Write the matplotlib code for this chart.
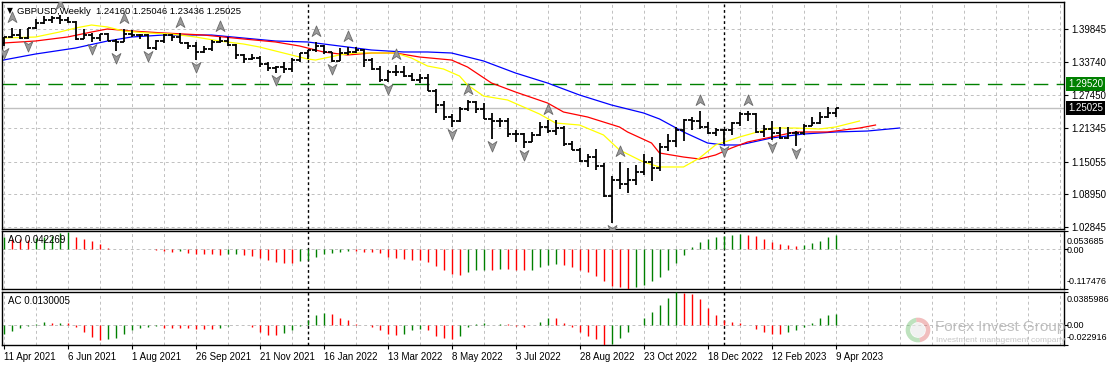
import numpy as np
import matplotlib
matplotlib.use('Agg')
import matplotlib.pyplot as plt
from matplotlib.path import Path
from matplotlib.patches import Wedge, Circle
from matplotlib.transforms import blended_transform_factory

plt.rcParams['font.family'] = ['Liberation Sans', 'DejaVu Sans']
plt.rcParams['font.size'] = 7

# GBPUSD weekly bars, 11 Apr 2021 .. 9 Apr 2023
opens = [1.3720, 1.3830, 1.3873, 1.3818, 1.3995, 1.4093, 1.4150, 1.4190, 1.4157, 1.4107,
         1.3800, 1.3868, 1.3825, 1.3890, 1.3760, 1.3740, 1.3900, 1.3870, 1.3870, 1.3625,
         1.3760, 1.3870, 1.3840, 1.3730, 1.3675, 1.3550, 1.3615, 1.3745, 1.3757, 1.3680,
         1.3495, 1.3415, 1.3440, 1.3330, 1.3265, 1.3270, 1.3240, 1.3400, 1.3530, 1.3590,
         1.3675, 1.3550, 1.3395, 1.3530, 1.3560, 1.3590, 1.3410, 1.3240, 1.3030, 1.3180,
         1.3180, 1.3115, 1.3035, 1.3070, 1.2830, 1.2570, 1.2335, 1.2260, 1.2490, 1.2620,
         1.2490, 1.2310, 1.2270, 1.2270, 1.2015, 1.2030, 1.1870, 1.2000, 1.2160, 1.2075,
         1.2140, 1.1830, 1.1730, 1.1510, 1.1585, 1.1415, 1.0860, 1.1170, 1.1090, 1.1170,
         1.1305, 1.1490, 1.1380, 1.1770, 1.1890, 1.2100, 1.2290, 1.2265, 1.2150, 1.2050,
         1.2095, 1.2090, 1.2225, 1.2395, 1.2395, 1.2055, 1.2115, 1.2040, 1.1945, 1.2035,
         1.2035, 1.2175, 1.2230, 1.2335, 1.24160]
highs = [1.3837, 1.4009, 1.3976, 1.4008, 1.4167, 1.4234, 1.4220, 1.4250, 1.4200, 1.4134,
         1.3978, 1.3910, 1.3898, 1.3908, 1.3789, 1.3983, 1.3958, 1.3893, 1.3890, 1.3784,
         1.3891, 1.3888, 1.3913, 1.3750, 1.3745, 1.3674, 1.3773, 1.3834, 1.3826, 1.3698,
         1.3510, 1.3514, 1.3480, 1.3373, 1.3300, 1.3375, 1.3440, 1.3540, 1.3600, 1.3749,
         1.3690, 1.3560, 1.3628, 1.3645, 1.3640, 1.3620, 1.3440, 1.3300, 1.3215, 1.3310,
         1.3290, 1.3165, 1.3150, 1.3148, 1.2860, 1.2640, 1.2405, 1.2525, 1.2667, 1.2640,
         1.2600, 1.2406, 1.2325, 1.2330, 1.2100, 1.2040, 1.2065, 1.2245, 1.2293, 1.2275,
         1.2180, 1.1900, 1.1760, 1.1650, 1.1738, 1.1480, 1.1235, 1.1495, 1.1380, 1.1440,
         1.1645, 1.1600, 1.1855, 1.2030, 1.2150, 1.2310, 1.2345, 1.2445, 1.2245, 1.2130,
         1.2120, 1.2245, 1.2435, 1.2448, 1.2420, 1.2190, 1.2270, 1.2145, 1.2145, 1.2080,
         1.2200, 1.2345, 1.2425, 1.2525, 1.25046]
lows = [1.3670, 1.3824, 1.3802, 1.3801, 1.3991, 1.4073, 1.4093, 1.4083, 1.4090, 1.3787,
        1.3792, 1.3733, 1.3760, 1.3760, 1.3570, 1.3740, 1.3840, 1.3800, 1.3602, 1.3600,
        1.3728, 1.3760, 1.3720, 1.3610, 1.3411, 1.3544, 1.3570, 1.3730, 1.3670, 1.3425,
        1.3355, 1.3400, 1.3280, 1.3194, 1.3160, 1.3165, 1.3180, 1.3375, 1.3430, 1.3560,
        1.3520, 1.3360, 1.3380, 1.3490, 1.3530, 1.3270, 1.3210, 1.3000, 1.2999, 1.3100,
        1.3090, 1.3010, 1.2975, 1.2820, 1.2410, 1.2275, 1.2155, 1.2250, 1.2460, 1.2420,
        1.2300, 1.1934, 1.2160, 1.1975, 1.1876, 1.1760, 1.1865, 1.1990, 1.2040, 1.2000,
        1.1800, 1.1715, 1.1500, 1.1405, 1.1350, 1.0838, 1.0350, 1.1000, 1.0925, 1.1060,
        1.1260, 1.1150, 1.1335, 1.1710, 1.1780, 1.1900, 1.2105, 1.2120, 1.2020, 1.1990,
        1.1840, 1.2000, 1.2170, 1.2260, 1.2050, 1.1960, 1.1915, 1.1925, 1.1920, 1.1800,
        1.2010, 1.2170, 1.2200, 1.2325, 1.23436]
closes = [1.3830, 1.3873, 1.3818, 1.3995, 1.4093, 1.4150, 1.4190, 1.4157, 1.4107, 1.3800,
          1.3868, 1.3825, 1.3890, 1.3760, 1.3740, 1.3900, 1.3870, 1.3870, 1.3625, 1.3760,
          1.3870, 1.3840, 1.3730, 1.3675, 1.3550, 1.3615, 1.3745, 1.3757, 1.3680, 1.3495,
          1.3415, 1.3440, 1.3330, 1.3265, 1.3270, 1.3240, 1.3400, 1.3530, 1.3590, 1.3675,
          1.3550, 1.3395, 1.3530, 1.3560, 1.3590, 1.3410, 1.3240, 1.3030, 1.3180, 1.3180,
          1.3115, 1.3035, 1.3070, 1.2830, 1.2570, 1.2335, 1.2260, 1.2490, 1.2620, 1.2490,
          1.2310, 1.2270, 1.2270, 1.2015, 1.2030, 1.1870, 1.2000, 1.2160, 1.2075, 1.2140,
          1.1830, 1.1730, 1.1510, 1.1585, 1.1415, 1.0860, 1.1170, 1.1090, 1.1170, 1.1305,
          1.1490, 1.1380, 1.1770, 1.1890, 1.2100, 1.2290, 1.2265, 1.2150, 1.2050, 1.2095,
          1.2090, 1.2225, 1.2395, 1.2395, 1.2055, 1.2115, 1.2040, 1.1945, 1.2035, 1.2035,
          1.2175, 1.2230, 1.2335, 1.2415, 1.25025]

date_labels = ['11 Apr 2021', '6 Jun 2021', '1 Aug 2021', '26 Sep 2021', '21 Nov 2021',
               '16 Jan 2022', '13 Mar 2022', '8 May 2022', '3 Jul 2022', '28 Aug 2022',
               '23 Oct 2022', '18 Dec 2022', '12 Feb 2023', '9 Apr 2023']
date_label_bars = [0, 8, 16, 24, 32, 40, 48, 56, 64, 72, 80, 88, 96, 104]
year_separators = [38, 90]

price_ticks = [1.39845, 1.33740, 1.27450, 1.21345, 1.15055, 1.08950, 1.02845]
price_range = (1.02469, 1.44891)
level_line = 1.29520
bid_price = 1.25025

up_fractals = [1, 7, 15, 22, 27, 39, 43, 49, 58, 68, 77, 87, 93]
down_fractals = [0, 3, 11, 14, 18, 24, 34, 41, 48, 56, 61, 65, 76, 90, 96, 99]

# alligator lines (jaw blue, teeth red, lips yellow), sampled off the chart
jaw_bars = [0, 4, 9, 13, 16, 20, 26, 30, 34, 38, 42, 46, 50, 53, 56, 60, 64, 68, 72, 76,
            80, 82, 85, 88, 90, 92, 96, 100, 104, 108, 112]
jaw_vals = [1.3405, 1.3517, 1.3629, 1.3760, 1.3835, 1.3872, 1.3872, 1.3816, 1.3760, 1.3742,
            1.3667, 1.3592, 1.3555, 1.3555, 1.3536, 1.3387, 1.3162, 1.2975, 1.2751, 1.2564,
            1.2415, 1.2303, 1.2060, 1.1854, 1.1817, 1.1817, 1.1948, 1.2022, 1.2060, 1.2078,
            1.2134]
teeth_bars = [0, 4, 8, 11, 13, 16, 20, 25, 30, 34, 37, 40, 43, 46, 49, 52, 56, 58, 61, 64,
              68, 70, 73, 77, 78, 81, 82, 85, 87, 89, 91, 93, 96, 99, 103, 107, 109]
teeth_vals = [1.3723, 1.3760, 1.3835, 1.3928, 1.3985, 1.3947, 1.3910, 1.3872, 1.3798, 1.3742,
              1.3667, 1.3555, 1.3499, 1.3536, 1.3536, 1.3461, 1.3405, 1.3274, 1.2975, 1.2807,
              1.2602, 1.2433, 1.2340, 1.2153, 1.2060, 1.1854, 1.1667, 1.1592, 1.1555, 1.1630,
              1.1761, 1.1873, 1.1966, 1.2060, 1.2060, 1.2134, 1.2190]
lips_bars = [0, 4, 7, 9, 11, 13, 15, 18, 21, 24, 27, 30, 32, 35, 38, 39, 42, 44, 49, 51,
             53, 55, 57, 58, 60, 63, 65, 67, 69, 72, 75, 77, 80, 82, 85, 87, 89, 92, 96, 99,
             102, 104, 107]
lips_vals = [1.3816, 1.3835, 1.3928, 1.4003, 1.4059, 1.4022, 1.3947, 1.3910, 1.3891, 1.3835,
             1.3760, 1.3704, 1.3648, 1.3536, 1.3424, 1.3405, 1.3499, 1.3536, 1.3536, 1.3442,
             1.3293, 1.3237, 1.3106, 1.2938, 1.2732, 1.2658, 1.2527, 1.2396, 1.2228, 1.2190,
             1.2004, 1.1723, 1.1499, 1.1406, 1.1406, 1.1574, 1.1817, 1.1966, 1.2134, 1.2134,
             1.2116, 1.2153, 1.2265]

ao_vals = [0.036, 0.030, 0.030, 0.028, 0.032, 0.036, 0.040, 0.047, 0.050, 0.035,
           0.031, 0.024, 0.014, 0.004, 0.001, 0.0005, 0.001, 0.002, 0.002, -0.002,
           -0.004, -0.007, -0.006, -0.010, -0.014, -0.015, -0.015, -0.016, -0.014, -0.013,
           -0.016, -0.020, -0.025, -0.032, -0.039, -0.040, -0.042, -0.036, -0.032, -0.022,
           -0.015, -0.010, -0.007, -0.004, -0.004, -0.007, -0.009, -0.012, -0.022, -0.027,
           -0.030, -0.032, -0.033, -0.038, -0.050, -0.062, -0.072, -0.075, -0.068, -0.062,
           -0.060, -0.062, -0.058, -0.058, -0.060, -0.062, -0.060, -0.054, -0.048, -0.045,
           -0.048, -0.052, -0.060, -0.068, -0.078, -0.095, -0.108, -0.112, -0.117476, -0.112,
           -0.105, -0.095, -0.082, -0.062, -0.040, -0.018, 0.005, 0.022, 0.030, 0.036,
           0.040, 0.042, 0.044, 0.043, 0.038, 0.030, 0.022, 0.015, 0.012, 0.010,
           0.012, 0.018, 0.025, 0.035, 0.042269]
ao_range = (-0.117476, 0.053685)

ac_vals = [-0.0098, -0.0066, -0.0027, -0.0005, 0.0010, 0.0039, 0.0023, 0.0027, 0.0027, -0.0020,
           -0.0078, -0.0137, -0.0168, -0.0156, -0.0148, -0.0098, -0.0050, -0.0027, -0.0020, -0.0010,
           -0.0027, -0.0027, -0.0027, -0.0027, -0.0040, -0.0040, -0.0040, -0.0027, -0.0003, 0.0005,
           0.0002, -0.0020, -0.0078, -0.0110, -0.0110, -0.0090, -0.0050, -0.0010, 0.0060, 0.0117,
           0.0137, 0.0129, 0.0090, 0.0059, 0.0012, 0.0000, -0.0020, -0.0059, -0.0105, -0.0110,
           -0.010, -0.006, -0.004, -0.006, -0.012, -0.015, -0.016, -0.012, -0.002, 0.002,
           0.003, 0.000, 0.002, 0.001, -0.001, -0.002, 0.000, 0.004, 0.008, 0.008,
           0.003, -0.002, -0.008, -0.012, -0.016, -0.022916, -0.022, -0.015, -0.008, 0.000,
           0.008, 0.015, 0.024, 0.032, 0.0385986, 0.038, 0.036, 0.030, 0.020, 0.012,
           0.006, 0.004, 0.003, 0.000, -0.004, -0.008, -0.010, -0.010, -0.008, -0.006,
           -0.002, 0.003, 0.008, 0.012, 0.0130005]
ac_range = (-0.022916, 0.0385986)

# ---- layout in pixels ----
W, H = 1110, 366
fig = plt.figure(figsize=(W / 100, H / 100), dpi=100)


def px_box(x0, y0, x1, y1):
    return [x0 / W, 1 - y1 / H, (x1 - x0) / W, (y1 - y0) / H]


ax = fig.add_axes(px_box(2, 2, 1064, 229))
ax_ao = fig.add_axes(px_box(2, 231, 1064, 289))
ax_ac = fig.add_axes(px_box(2, 292, 1064, 345))

x = np.arange(len(closes))
grid_color = '#c0c0c0'
grid_ls = (0, (3, 3))

for a in (ax, ax_ao, ax_ac):
    a.set_xlim(-0.1875, 132.56)
    for s in a.spines.values():
        s.set_linewidth(1.0)
        s.set_color('black')
    for gx in range(0, 133, 4):
        a.axvline(gx, color=grid_color, lw=0.7, ls=grid_ls, zorder=0)
    for sx in year_separators:
        a.axvline(sx, color='black', lw=1.0, ls=(0, (2, 2)), zorder=1)
    a.yaxis.tick_right()
    a.tick_params(axis='x', which='both', bottom=False, top=False, labelbottom=False)
    a.tick_params(axis='y', direction='out', length=3, width=0.8, pad=2, labelsize=7,
                  colors='black')

# ---- main price panel ----
ax.set_ylim(*price_range)
ax.set_yticks(price_ticks)
ax.set_yticklabels(['%.5f' % p for p in price_ticks])
for p in price_ticks:
    ax.axhline(p, color=grid_color, lw=0.7, ls=grid_ls, zorder=0)

ax.axhline(level_line, color='#008000', lw=1.0, ls=(0, (10.5, 6)), zorder=1)
ax.axhline(bid_price, color='#c0c0c0', lw=1.0, zorder=1)

ax.plot(jaw_bars, jaw_vals, color='#0000ff', lw=0.9, zorder=2)
ax.plot(teeth_bars, teeth_vals, color='#ff0000', lw=0.9, zorder=2)
ax.plot(lips_bars, lips_vals, color='#ffff00', lw=0.9, zorder=2)

ax.vlines(x, lows, highs, color='black', lw=1.3, zorder=3)
ax.hlines(opens, x - 0.42, x, color='black', lw=1.3, zorder=3)
ax.hlines(closes, x, x + 0.42, color='black', lw=1.3, zorder=3)

up_arrow = Path([(0, 1), (0.8, -0.9), (0, -0.35), (-0.8, -0.9), (0, 1)],
                [Path.MOVETO, Path.LINETO, Path.LINETO, Path.LINETO, Path.CLOSEPOLY])
down_arrow = Path([(0, -1), (0.8, 0.9), (0, 0.35), (-0.8, 0.9), (0, -1)],
                  [Path.MOVETO, Path.LINETO, Path.LINETO, Path.LINETO, Path.CLOSEPOLY])
highs_a = np.array(highs)
lows_a = np.array(lows)
ax.plot(up_fractals, highs_a[up_fractals] + 0.0205, ls='none', marker=up_arrow, ms=8,
        mfc='#9a9a9a', mec='#6a6a6a', mew=0.6, zorder=4)
ax.plot(down_fractals, lows_a[down_fractals] - 0.0130, ls='none', marker=down_arrow, ms=8,
        mfc='#9a9a9a', mec='#6a6a6a', mew=0.6, zorder=4)

trans = blended_transform_factory(ax.transAxes, ax.transData)
ax.annotate('%.5f' % level_line, xy=(1, level_line), xycoords=trans, xytext=(4, 0),
            textcoords='offset pixels', va='center', ha='left', color='white', fontsize=7,
            bbox=dict(boxstyle='square,pad=0.2', fc='#008000', ec='none'),
            annotation_clip=False)
ax.annotate('%.5f' % bid_price, xy=(1, bid_price), xycoords=trans, xytext=(4, 0),
            textcoords='offset pixels', va='center', ha='left', color='white', fontsize=7,
            bbox=dict(boxstyle='square,pad=0.2', fc='black', ec='none'),
            annotation_clip=False)

fig.text(7 / W, 1 - 11 / H, '\u25bc', fontsize=5.5, va='center', ha='left',
         family=['DejaVu Sans'])
fig.text(17 / W, 1 - 11 / H, 'GBPUSD,Weekly  1.24160 1.25046 1.23436 1.25025',
         fontsize=6.8, va='center', ha='left')


# ---- oscillator panels ----
def osc_panel(a, vals, yr, name, label_value, offsets):
    a.set_ylim(*yr)
    cols = ['#008000']
    for i in range(1, len(vals)):
        cols.append('#008000' if vals[i] > vals[i - 1] else '#ff0000')
    a.axhline(0, color=grid_color, lw=0.7, ls=grid_ls, zorder=0)
    a.vlines(x, 0, vals, colors=cols, lw=1.0, zorder=3)
    ticks = [yr[1], 0.0, yr[0]]
    a.set_yticks(ticks)
    a.set_yticklabels([])
    tr = blended_transform_factory(a.transAxes, a.transData)
    for t, off, txt in zip(ticks, offsets, [('%g' % yr[1]), '0.00', ('%g' % yr[0])]):
        a.annotate(txt, xy=(1, t), xycoords=tr, xytext=(3, off), textcoords='offset pixels',
                   va='center', ha='left', fontsize=6.5, annotation_clip=False)
    a.text(6 / 1062, 1 - 4 / a.bbox.height, '%s %s' % (name, label_value),
           transform=a.transAxes, fontsize=7, va='top', ha='left')


osc_panel(ax_ao, ao_vals, ao_range, 'AO', '0.042269', (-10, -1, 7))
osc_panel(ax_ac, ac_vals, ac_range, 'AC', '0.0130005', (-8, 0, 7))

ax_ac.set_xticks(date_label_bars)
ax_ac.set_xticklabels(date_labels, ha='left')
ax_ac.tick_params(axis='x', bottom=True, labelbottom=True, length=3, width=0.8, pad=2,
                  labelsize=7)

# ---- watermark logo ----
lax = fig.add_axes(px_box(905, 317, 931, 343))
lax.set_xlim(-1, 1)
lax.set_ylim(-1, 1)
lax.set_aspect('equal')
lax.axis('off')
lax.add_patch(Wedge((0, 0), 0.95, 100, 280, width=0.35, fc='#6fbf6f', ec='none', alpha=0.45))
lax.add_patch(Wedge((0, 0), 0.95, 280, 100, width=0.35, fc='#e07070', ec='none', alpha=0.45))
lax.add_patch(Circle((0, 0), 0.55, fc='#e8e8e8', ec='none', alpha=0.6))
fig.text(935 / W, 1 - 327 / H, 'Forex Invest Group', fontsize=11, color='#b4b4b4',
         va='center', ha='left', family=['Liberation Sans Narrow', 'Liberation Sans'],
         alpha=0.85)
fig.text(936 / W, 1 - 341 / H, 'Investment management company', fontsize=6,
         color='#c0c0c0', va='center', ha='left', alpha=0.9)

fig.savefig('out.png', dpi=100)
